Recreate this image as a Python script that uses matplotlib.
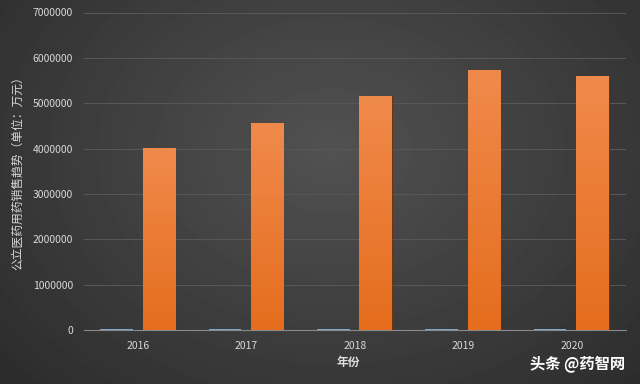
import numpy as np
import matplotlib
matplotlib.use("Agg")
import matplotlib.pyplot as plt
from matplotlib.colors import LinearSegmentedColormap

plt.rcParams['font.family'] = ['Noto Sans CJK SC', 'DejaVu Sans']

years = ["2016", "2017", "2018", "2019", "2020"]
sales = [4010000, 4560000, 5150000, 5740000, 5590000]
minor_series = [20000, 20000, 20000, 20000, 20000]
yticks = [0, 1000000, 2000000, 3000000, 4000000, 5000000, 6000000, 7000000]
ylabel = "公立医药用药销售趋势（单位：万元）"
xlabel = "年份"
watermark = "头条 @药智网"

fig = plt.figure(figsize=(6.4, 3.84), dpi=100)

# radial gradient background
bg = fig.add_axes([0, 0, 1, 1], zorder=-10)
yy, xx = np.mgrid[0:384, 0:640]
r = np.sqrt(((xx - 330) / 420) ** 2 + ((yy - 150) / 320) ** 2)
img = np.clip(0.32 - 0.14 * r, 0.15, 0.34)
bg.imshow(img, cmap='gray', vmin=0, vmax=1, aspect='auto', extent=[0, 1, 0, 1])
bg.axis('off')

ax = fig.add_axes([84 / 640, 1 - 330 / 384, (626 - 84) / 640, (330 - 12.5) / 384])
ax.set_facecolor('none')

x = np.arange(len(years))
w = 0.3
ax.bar(x - 0.2, minor_series, width=w, color='#7fa7c9', zorder=3)
bars = ax.bar(x + 0.19, sales, width=w, color='#ee7d31', edgecolor='#6e3410', linewidth=0.8, zorder=3)

# orange vertical gradient inside bars
cmap = LinearSegmentedColormap.from_list('o', ['#e56d1d', '#f08a4c'])
grad = np.linspace(0, 1, 256).reshape(-1, 1)
for b in bars:
    x0, y0 = b.get_x(), b.get_y()
    im = ax.imshow(grad, cmap=cmap, origin='lower', aspect='auto',
                   extent=[x0, x0 + b.get_width(), y0, y0 + b.get_height()], zorder=3.5)
    im.set_clip_path(b)

ax.set_xlim(-0.5, len(years) - 0.5)
ax.set_ylim(0, 7000000)
ax.set_yticks(yticks)
ax.set_yticklabels([str(v) for v in yticks])
ax.set_xticks(x)
ax.set_xticklabels(years)
ax.tick_params(axis='both', length=0, colors='#d9d9d9', labelsize=7.5)
ax.tick_params(axis='x', pad=8)
ax.tick_params(axis='y', pad=8)
ax.grid(axis='y', color='#585858', linewidth=0.7, zorder=0)
for s in ['top', 'right', 'left']:
    ax.spines[s].set_visible(False)
ax.spines['bottom'].set_color('#8a8a8a')
ax.spines['bottom'].set_linewidth(0.8)

fig.text(18 / 640, 1 - 170 / 384, ylabel, rotation=90, ha='center', va='center',
         color='#d9d9d9', fontsize=8.5)
fig.text(348 / 640, 1 - 362 / 384, xlabel, ha='center', va='center',
         color='#e0e0e0', fontsize=8.5, fontweight='bold')
fig.text(578 / 640, 1 - 364 / 384, watermark, ha='center', va='center',
         color='#ffffff', fontsize=11, fontweight='bold')

fig.savefig('out.png', dpi=100)
